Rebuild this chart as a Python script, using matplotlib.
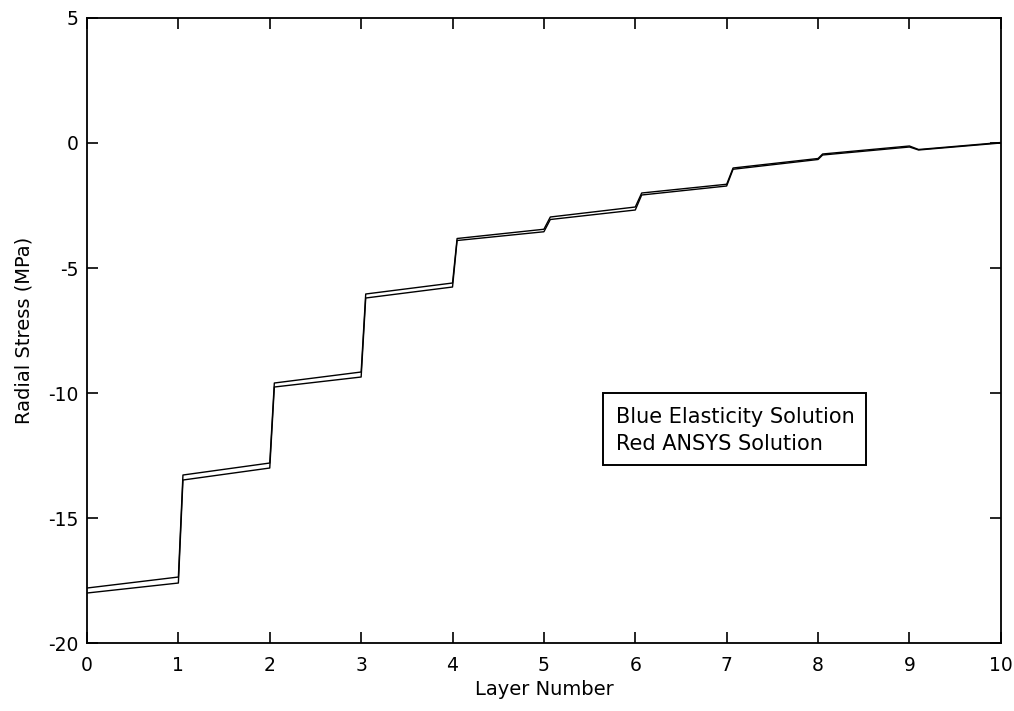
import matplotlib
matplotlib.use("Agg")
import matplotlib.pyplot as plt
from matplotlib.patches import Rectangle

# layer positions (x) where the curves change, shared by both solutions
layer_x = [0, 1.0, 1.05, 2.0, 2.05, 3.0, 3.05, 4.0, 4.05, 5.0, 5.07,
           6.0, 6.07, 7.0, 7.07, 8.0, 8.05, 9.0, 9.1, 10.0]
elasticity = [-17.8, -17.36, -13.28, -12.8, -9.6, -9.16, -6.04, -5.6,
              -3.82, -3.45, -2.96, -2.56, -2.0, -1.65, -1.0, -0.62,
              -0.44, -0.12, -0.26, 0.02]
ansys = [-18.0, -17.6, -13.48, -13.0, -9.76, -9.36, -6.2, -5.76,
         -3.9, -3.55, -3.06, -2.68, -2.08, -1.72, -1.05, -0.66,
         -0.48, -0.16, -0.28, 0.0]

x_ticks = list(range(0, 11))
y_ticks = [-20, -15, -10, -5, 0, 5]
legend_lines = ["Blue Elasticity Solution", "Red ANSYS Solution"]

plt.rcParams['font.family'] = ['DejaVu Sans']
plt.rcParams['axes.unicode_minus'] = False

fig = plt.figure(figsize=(10.14, 7.11), dpi=100)
ax = fig.add_axes([0.0858, 0.0956, 0.9012, 0.8791])

ax.plot(layer_x, elasticity, color='black', lw=1.0)
ax.plot(layer_x, ansys, color='black', lw=1.0)

ax.set_xlim(0, 10)
ax.set_ylim(-20, 5)
ax.set_xticks(x_ticks)
ax.set_yticks(y_ticks)
ax.tick_params(direction='in', length=8, width=1.2, top=True, right=True,
               labelsize=13.5)
ax.tick_params(axis='x', pad=9)
ax.tick_params(axis='y', pad=6)
for s in ax.spines.values():
    s.set_linewidth(1.3)

ax.set_xlabel("Layer Number", fontsize=14, labelpad=4)
ax.set_ylabel("Radial Stress (MPa)", fontsize=14, labelpad=11)

# boxed note in place of a legend
ax.add_patch(Rectangle((0.5646, 0.2848), 0.2877, 0.1152, transform=ax.transAxes,
                       fc='white', ec='black', lw=1.4, zorder=3))
ax.text(0.5788, 0.352, legend_lines[0], transform=ax.transAxes,
        fontsize=15, ha='left', va='baseline', zorder=4)
ax.text(0.5788, 0.3088, legend_lines[1], transform=ax.transAxes,
        fontsize=15, ha='left', va='baseline', zorder=4)

fig.savefig("out.png", dpi=100)
